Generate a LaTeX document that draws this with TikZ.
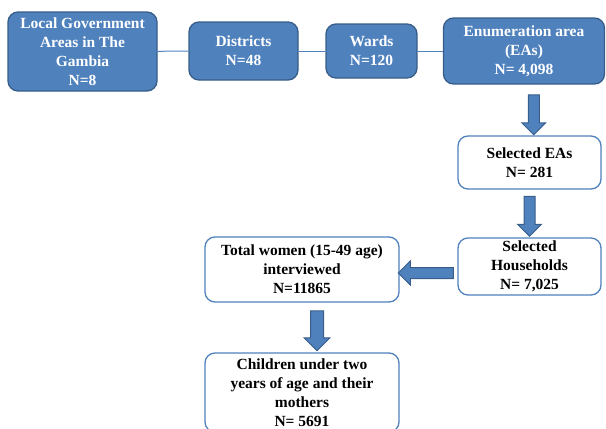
\documentclass[tikz,border=0pt]{standalone}
\usepackage{fontspec}
\setmainfont{Liberation Serif}
\usetikzlibrary{shapes.arrows,calc}
\definecolor{boxblue}{HTML}{4F81BD}
\definecolor{edgeblue}{HTML}{385D8A}
\begin{document}
\begin{tikzpicture}[x=1pt,y=-1pt,
    every node/.style={font=\bfseries\fontsize{15.5}{19}\selectfont,align=center,inner sep=0pt},
    level/.style={draw=edgeblue,fill=boxblue,text=white,rounded corners=10pt,line width=1.3pt},
    stage/.style={draw=boxblue,fill=white,rounded corners=10pt,line width=1.3pt},
    bigarrow/.style={single arrow,draw=edgeblue,fill=boxblue,line width=1pt,
      inner xsep=0pt,inner ysep=5pt,single arrow head extend=6.5pt}]
  \useasboundingbox (0,0) rectangle (606,429);
  \clip (0,0) rectangle (606,429);
  \node[level,minimum width=149pt,minimum height=79pt] (lga) at (82.5,51.5)
    {Local Government\\Areas in The\\Gambia\\N=8};
  \node[level,minimum width=109pt,minimum height=58pt] (dist) at (243.5,51)
    {Districts\\N=48};
  \node[level,minimum width=91pt,minimum height=54pt] (ward) at (371.5,51)
    {Wards\\N=120};
  \node[level,minimum width=161pt,minimum height=66pt] (ea) at (524,51)
    {Enumeration area\\(EAs)\\N= 4,098};
  \node[stage,minimum width=143pt,minimum height=53pt] (selea) at (529.5,162.5)
    {Selected EAs\\N= 281};
  \node[stage,minimum width=143pt,minimum height=57pt] (selhh) at (529.5,266.5)
    {Selected\\Households\\N= 7,025};
  \node[stage,minimum width=194pt,minimum height=65pt] (women) at (302,269.5)
    {Total women (15-49 age)\\interviewed\\N=11865};
  \node[stage,minimum width=194pt,minimum height=79pt] (child) at (302,392.5)
    {Children under two\\years of age and their\\mothers\\N= 5691};
  \begin{scope}[boxblue,line width=1pt]
    \draw ([xshift=-20pt]lga.east) -- (dist.west);
    \draw (dist.east) -- (ward.west);
    \draw (ward.east) -- (ea.west);
  \end{scope}
  \node[bigarrow,rotate=-90,minimum height=40pt] (a1) at ($(ea.south)!0.5!(selea.north)+(7,2)$) {};
  \node[bigarrow,rotate=-90,minimum height=40pt] (a2) at ($(selea.south)!0.5!(selhh.north)$) {};
  \node[bigarrow,rotate=180,minimum height=55pt] (a3) at ($(selhh.west)!0.5!(women.east)+(0,5)$) {};
  \node[bigarrow,rotate=-90,minimum height=40pt,inner ysep=6pt] (a4) at ($(women.south)!0.5!(child.north)+(15,0)$) {};
\end{tikzpicture}
\end{document}
